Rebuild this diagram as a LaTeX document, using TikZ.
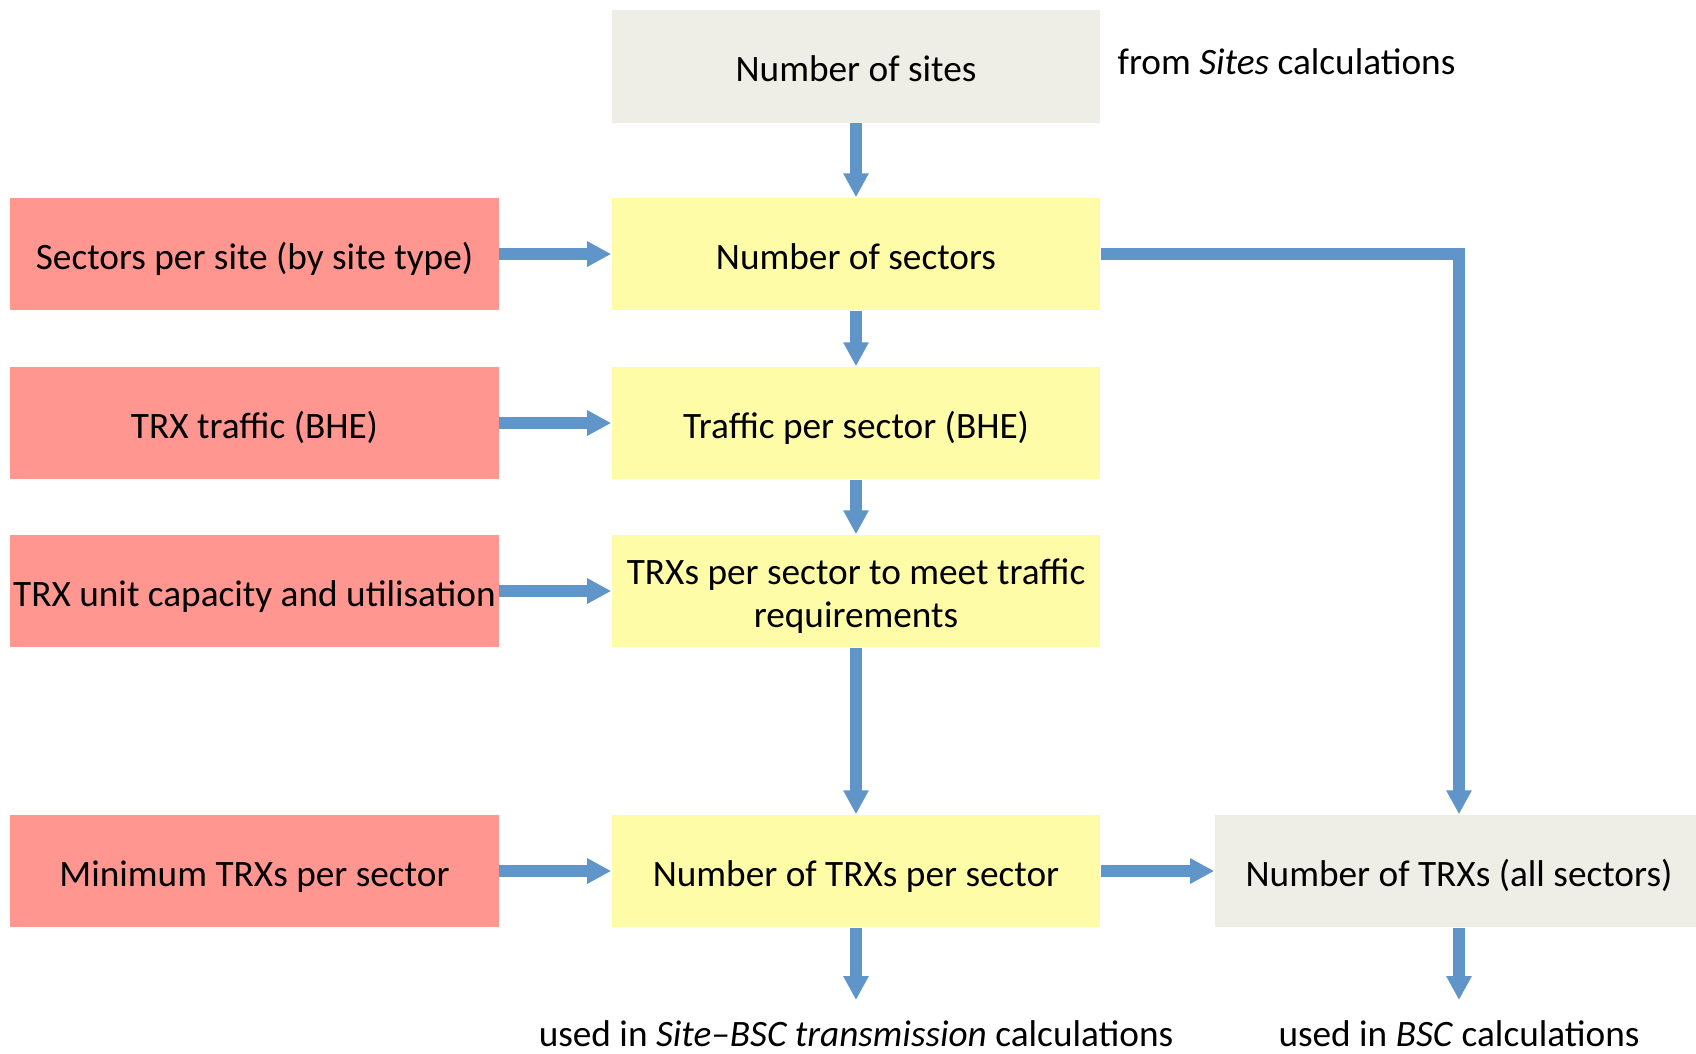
\documentclass[tikz,border=0pt]{standalone}
\usepackage{fontspec}
\setmainfont{Carlito}
\usetikzlibrary{arrows.meta}
\definecolor{flowblue}{HTML}{5F95C9}
\definecolor{inred}{HTML}{FF9690}
\definecolor{calcyellow}{HTML}{FFFCA8}
\definecolor{extgrey}{HTML}{EFEEE6}
\tikzset{
  box/.style={minimum width=4.88cm,minimum height=1.12cm,inner sep=0pt,align=center,
    text height=10pt,text depth=1.4pt,font=\fontsize{10.6}{12.4}\selectfont},
  inbox/.style={box,fill=inred},
  calcbox/.style={box,fill=calcyellow},
  extbox/.style={box,fill=extgrey},
  note/.style={inner sep=0pt,font=\fontsize{10.6}{12.4}\selectfont},
  flow/.style={draw=flowblue,line width=0.12cm,line join=miter,
    -{Triangle[length=0.24cm,width=0.24cm]}},
}
\begin{document}
\begin{tikzpicture}[x=0.01cm,y=-0.01cm]
\useasboundingbox (0,0) rectangle (1696,1053);
\clip (0,0) rectangle (1696,1053);
%middle column
\node[extbox] (sites) at (856,66.5){Number of sites};
\node[note,anchor=west] (fromsites) at (1117,62){from \textit{Sites} calculations};
\node[calcbox] (sectors) at (856,254){Number of sectors};
\node[calcbox] (traffic) at (856,423){Traffic per sector (BHE)};
\node[calcbox,text height={},text depth={}] (trxreq) at (856,591)
  {\rule{0pt}{10.3pt}TRXs per sector to meet traffic\\requirements};
\node[calcbox] (trxsec) at (856,871){Number of TRXs per sector};
%inputs
\node[inbox] (secsite) at (254.5,254){Sectors per site (by site type)};
\node[inbox] (trxtraf) at (254.5,423){TRX traffic (BHE)};
\node[inbox] (trxcap) at (254.5,591){TRX unit capacity and utilisation};
\node[inbox] (mintrx) at (254.5,871){Minimum TRXs per sector};
%all sectors
\node[extbox] (trxall) at (1459,871){Number of TRXs (all sectors)};
%outputs
\coordinate (siteend) at (856,1000);
\coordinate (bscend) at (1459,1000);
\node[note,anchor=base,text depth=0pt] (usesite) at (856,1046){used in \textit{Site--BSC transmission} calculations};
\node[note,anchor=base,text depth=0pt] (usebsc) at (1459,1046){used in \textit{BSC} calculations};
%connectors
\draw[flow] (sites) -- (sectors);
\draw[flow] (sectors) -- (traffic);
\draw[flow] (traffic) -- (trxreq);
\draw[flow] (trxreq) -- (trxsec);
\draw[flow] (secsite) -- (sectors);
\draw[flow] (trxtraf) -- (traffic);
\draw[flow] (trxcap) -- (trxreq);
\draw[flow] (mintrx) -- (trxsec);
\draw[flow] (trxsec) -- (trxall);
\draw[flow] (sectors.east) -| (trxall.north);
\draw[flow] (trxsec) -- (siteend);
\draw[flow] (trxall) -- (bscend);
\end{tikzpicture}
\end{document}
